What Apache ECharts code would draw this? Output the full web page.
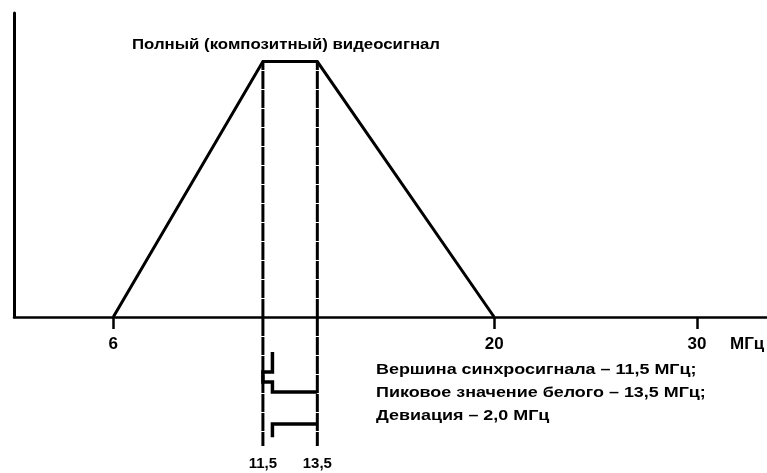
<!DOCTYPE html>
<html><head><meta charset="utf-8">
<script src="https://cdn.jsdelivr.net/npm/echarts@6/dist/echarts.min.js"></script>
<style>html,body{margin:0;padding:0;background:#fff}#c{width:767px;height:473px}</style>
</head><body><div id="c"></div>
<script>
// ---- data ----
const trapFreq = [6, 11.5, 13.5, 20];
const trapLevel = [0, 1, 1, 0];
const markerFreqs = [11.5, 13.5];
const mainTickValues = [6, 20];
const farTickValues = [30];
const pulseAFreq = [11.85, 11.85, 11.5, 11.5, 11.85, 11.85, 13.5];
const pulseATime = [4.25, 6.75, 6.75, 8, 8, 9.25, 9.25];
const pulseBFreq = [13.5, 11.85, 11.85];
const pulseBTime = [13.25, 13.25, 14.9];
const titleText = 'Полный (композитный) видеосигнал';
const unitText = 'МГц';
const noteLines = ['Вершина синхросигнала – 11,5 МГц;', 'Пиковое значение белого – 13,5 МГц;', 'Девиация – 2,0 МГц'];

// ---- chart ----
const FONT = '"Liberation Sans", Arial, sans-serif';
const topLevel = Math.max(...trapLevel);
const zip = (a, b) => a.map((v, i) => [v, b[i]]);
const chart = echarts.init(document.getElementById('c'), null, {renderer: 'canvas'});
const bigLabel = {color: '#000', fontFamily: FONT, fontWeight: 'bold', fontSize: 17};
const smallLabel = {color: '#000', fontFamily: FONT, fontWeight: 'bold', fontSize: 15};

const series = [
  {type: 'line', xAxisIndex: 0, yAxisIndex: 0, data: zip(trapFreq, trapLevel), symbol: 'none',
   lineStyle: {color: '#000', width: 3, join: 'miter'}, silent: true, z: 5}
];
markerFreqs.forEach(f => {
  series.push({type: 'line', xAxisIndex: 0, yAxisIndex: 0, data: [[f, 0], [f, topLevel]], symbol: 'none',
    lineStyle: {color: '#000', width: 3, type: [18, 1]}, silent: true, z: 4});
  series.push({type: 'line', xAxisIndex: 2, yAxisIndex: 1, data: [[f, 0], [f, 16]], symbol: 'none',
    lineStyle: {color: '#000', width: 3, type: [18, 1]}, silent: true, z: 4});
});
series.push({type: 'line', xAxisIndex: 2, yAxisIndex: 1, data: zip(pulseAFreq, pulseATime), symbol: 'none',
  lineStyle: {color: '#000', width: 3.5, join: 'miter'}, silent: true, z: 5});
series.push({type: 'line', xAxisIndex: 2, yAxisIndex: 1, data: zip(pulseBFreq, pulseBTime), symbol: 'none',
  lineStyle: {color: '#000', width: 3.5, join: 'miter'}, silent: true, z: 5});

chart.setOption({
  animation: false,
  backgroundColor: '#fff',
  grid: [
    {left: 14, right: 0, top: 13, height: 304, containLabel: false},
    {left: 14, right: 0, top: 318, height: 128, containLabel: false}
  ],
  xAxis: [
    {gridIndex: 0, type: 'value', min: 2.35, max: 30.03, position: 'bottom',
     axisLine: {show: true, onZero: false, lineStyle: {color: '#000', width: 2.5}},
     axisTick: {show: true, customValues: mainTickValues, length: 12, lineStyle: {color: '#000', width: 2.5}},
     axisLabel: {show: true, customValues: mainTickValues, margin: 19, ...bigLabel},
     splitLine: {show: false}},
    {gridIndex: 0, type: 'value', min: -4.15, max: 33.5, position: 'bottom', offset: 0,
     axisLine: {show: false, onZero: false},
     axisTick: {show: true, customValues: farTickValues, length: 12, lineStyle: {color: '#000', width: 2.5}},
     axisLabel: {show: true, customValues: farTickValues, margin: 19, ...bigLabel},
     splitLine: {show: false}},
    {gridIndex: 1, type: 'value', min: 2.35, max: 30.03, position: 'bottom',
     axisLine: {show: false, onZero: false}, axisTick: {show: false},
     axisLabel: {show: true, customValues: markerFreqs, margin: 10, ...smallLabel,
       formatter: v => String(v).replace('.', ',')},
     splitLine: {show: false}}
  ],
  yAxis: [
    {gridIndex: 0, type: 'value', min: 0, max: 1.19, position: 'left',
     axisLine: {show: true, onZero: false, lineStyle: {color: '#000', width: 3}},
     axisTick: {show: false}, axisLabel: {show: false}, splitLine: {show: false}},
    {gridIndex: 1, type: 'value', min: 0, max: 16, inverse: true, show: false,
     axisLine: {onZero: false}, splitLine: {show: false}}
  ],
  graphic: [
    {type: 'text', x: 132, y: 38, scaleX: 1.2, silent: true,
     style: {text: titleText, fill: '#000', font: 'bold 14px ' + FONT}},
    {type: 'text', x: 730, y: 336, silent: true,
     style: {text: unitText, fill: '#000', font: 'bold 17px ' + FONT}},
    {type: 'text', x: 376, y: 359, scaleX: 1.28, silent: true,
     style: {text: noteLines.join('\n'), fill: '#000', font: 'bold 14px ' + FONT, lineHeight: 23}}
  ],
  series: series
});
</script>
</body></html>
